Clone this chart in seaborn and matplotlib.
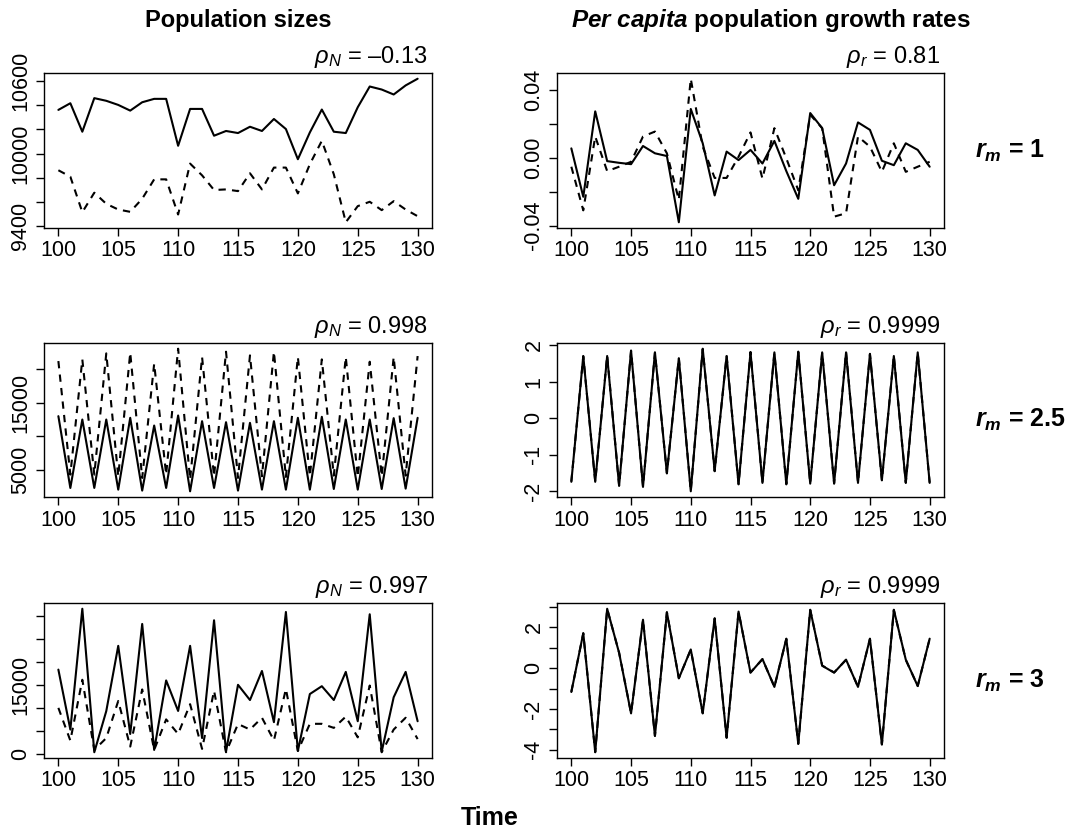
import matplotlib
matplotlib.use("Agg")
import matplotlib.pyplot as plt
import seaborn as sns
import pandas as pd
import numpy as np

# ---------------- data ----------------
years = list(range(100, 131))

# r_m = 1
pop1_solid = [10360, 10415, 10180, 10457, 10435, 10401, 10354, 10423, 10451, 10451,
              10064, 10368, 10368, 10147, 10186, 10169, 10221, 10186, 10285, 10202,
              9953, 10174, 10363, 10180, 10169, 10382, 10553, 10528, 10487, 10562, 10617]
pop1_dash = [9862, 9809, 9516, 9677, 9585, 9538, 9519, 9627, 9787, 9787,
             9497, 9917, 9820, 9699, 9704, 9690, 9837, 9704, 9884, 9884,
             9671, 9912, 10105, 9829, 9433, 9566, 9602, 9533, 9607, 9538, 9483]
gr1_solid = [0.0055, -0.023, 0.0273, -0.002, -0.003, -0.0038, 0.0069, 0.0026, 0.001, -0.038,
             0.0287, 0.0085, -0.0222, 0.0036, -0.0014, 0.0046, -0.0034, 0.0099, -0.0079, -0.0242,
             0.0263, 0.0174, -0.0162, -0.0034, 0.0208, 0.0164, -0.0018, -0.0044, 0.0085, 0.0046, -0.0053]
gr1_dash = [-0.0053, -0.031, 0.0125, -0.0079, -0.0053, -0.0024, 0.0125, 0.0154, 0.0026, -0.0248,
            0.0465, 0.0065, -0.0119, -0.0119, 0.0006, 0.0149, -0.0123, 0.0174, -0.0004, -0.0192,
            0.0253, 0.0174, -0.0347, -0.0327, 0.0125, 0.0065, -0.0083, 0.0085, -0.0083, -0.0053, -0.0024]

# r_m = 2.5
pop2_solid = [13000, 2250, 12500, 2250, 12500, 2000, 12750, 1850, 11600, 2250,
              13100, 1750, 12250, 2250, 12100, 1850, 12000, 2000, 12250, 2000,
              12750, 2000, 12900, 2100, 12500, 2000, 12500, 2100, 12700, 2150, 12750]
pop2_dash = [21250, 4250, 21500, 4250, 22400, 4000, 22500, 3750, 20850, 4250,
             23100, 3500, 21850, 4000, 22650, 3750, 22100, 4000, 22650, 3900,
             21850, 4000, 21500, 4100, 21850, 3900, 21150, 4000, 21850, 4100, 22000]
gr2_solid = [-1.74, 1.71, -1.74, 1.71, -1.85, 1.86, -1.88, 1.81, -1.51, 1.65,
             -2.00, 1.91, -1.44, 1.71, -1.81, 1.81, -1.77, 1.81, -1.81, 1.83,
             -1.79, 1.81, -1.79, 1.81, -1.77, 1.77, -1.69, 1.71, -1.77, 1.81, -1.77]
gr2_dash = [-1.73, 1.70, -1.73, 1.72, -1.84, 1.85, -1.87, 1.80, -1.50, 1.66,
            -1.99, 1.90, -1.45, 1.72, -1.80, 1.82, -1.76, 1.80, -1.80, 1.82,
            -1.78, 1.80, -1.78, 1.82, -1.76, 1.76, -1.70, 1.72, -1.76, 1.80, -1.76]

# r_m = 3
pop3_solid = [18300, 5300, 31500, 370, 9300, 23450, 4340, 28200, 880, 15950,
              9330, 23450, 3450, 29000, 510, 15000, 11700, 18000, 6900, 30800,
              660, 13000, 14700, 11700, 17800, 7100, 30300, 510, 12300, 17800, 7100]
pop3_dash = [10000, 2900, 16100, 880, 3450, 11500, 1600, 14000, 880, 7500,
             4340, 10800, 1100, 13700, 370, 6500, 5300, 7860, 2940, 14100,
             660, 6540, 6540, 5660, 8100, 3600, 14850, 370, 5300, 7860, 3230]
gr3_solid = [-1.17, 1.72, -4.13, 2.92, 0.75, -2.22, 2.38, -3.33, 2.75, -0.50,
             0.92, -2.22, 2.45, -3.42, 2.78, -0.22, 0.45, -0.92, 1.45, -3.72,
             2.87, 0.12, -0.22, 0.42, -0.92, 1.45, -3.75, 2.87, 0.42, -0.88, 1.45]
gr3_dash = [-1.16, 1.71, -4.12, 2.91, 0.76, -2.21, 2.37, -3.32, 2.74, -0.49,
            0.91, -2.21, 2.44, -3.41, 2.77, -0.21, 0.44, -0.91, 1.44, -3.71,
            2.86, 0.13, -0.21, 0.41, -0.91, 1.44, -3.74, 2.86, 0.41, -0.87, 1.44]

rho_labels = [r"$\rho_N$ = –0.13", r"$\rho_r$ = 0.81",
              r"$\rho_N$ = 0.998", r"$\rho_r$ = 0.9999",
              r"$\rho_N$ = 0.997", r"$\rho_r$ = 0.9999"]
rm_labels = ["1", "2.5", "3"]

x_ticks = [100, 105, 110, 115, 120, 125, 130]
y_ticks = [
    [9400, 9600, 9800, 10000, 10200, 10400, 10600],
    [-0.04, -0.02, 0.00, 0.02, 0.04],
    [5000, 10000, 15000, 20000],
    [-2, -1, 0, 1, 2],
    [0, 5000, 10000, 15000, 20000, 25000, 30000],
    [-4, -3, -2, -1, 0, 1, 2, 3],
]
y_ticklabels = [
    ["9400", "", "", "10000", "", "", "10600"],
    ["-0.04", "", "0.00", "", "0.04"],
    ["5000", "", "15000", ""],
    ["-2", "-1", "0", "1", "2"],
    ["0", "", "", "15000", "", "", ""],
    ["-4", "", "-2", "", "0", "", "2", ""],
]

panels = [(pop1_solid, pop1_dash), (gr1_solid, gr1_dash),
          (pop2_solid, pop2_dash), (gr2_solid, gr2_dash),
          (pop3_solid, pop3_dash), (gr3_solid, gr3_dash)]

# ---------------- style ----------------
sns.set_theme(style="white")
plt.rcParams["font.family"] = ["Liberation Sans", "DejaVu Sans"]
plt.rcParams["mathtext.fontset"] = "custom"
plt.rcParams["mathtext.rm"] = "Liberation Sans"
plt.rcParams["mathtext.it"] = "Liberation Sans:italic"
plt.rcParams["mathtext.bf"] = "Liberation Sans:bold"
plt.rcParams["mathtext.bfit"] = "Liberation Sans:italic:bold"
plt.rcParams["axes.unicode_minus"] = False
plt.rcParams["text.color"] = "black"
plt.rcParams["axes.labelcolor"] = "black"
plt.rcParams["xtick.color"] = "black"
plt.rcParams["ytick.color"] = "black"

W, H = 1065, 833
fig = plt.figure(figsize=(W / 100, H / 100), dpi=100)

cols = [(44, 432), (557, 944)]
rows = [(73, 228), (343, 497), (603, 758)]

for i, (solid, dash) in enumerate(panels):
    r, c = divmod(i, 2)
    x0, x1 = cols[c]
    y0, y1 = rows[r]
    ax = fig.add_axes([x0 / W, 1 - y1 / H, (x1 - x0) / W, (y1 - y0) / H])
    df = pd.DataFrame({"year": years, "solid": solid, "dash": dash})
    sns.lineplot(data=df, x="year", y="dash", ax=ax, color="black", lw=1.5,
                 linestyle=(0, (3.5, 3)))
    sns.lineplot(data=df, x="year", y="solid", ax=ax, color="black", lw=1.5)
    ax.margins(x=0.04, y=0.04)
    ax.set_xlabel("")
    ax.set_ylabel("")
    ax.set_xticks(x_ticks)
    ax.set_xticklabels([str(t) for t in x_ticks])
    ax.set_yticks(y_ticks[i])
    ax.set_yticklabels(y_ticklabels[i], rotation=90, va="center")
    for s in ax.spines.values():
        s.set_visible(True)
        s.set_color("black")
        s.set_linewidth(1.0)
    ax.tick_params(axis="both", direction="out", length=6, width=1.0,
                   color="black", labelsize=15.5, labelcolor="black", pad=3,
                   left=True, bottom=True)
    ax.grid(False)
    ax.text(0.99, 1.02, rho_labels[i], transform=ax.transAxes, ha="right",
            va="bottom", fontsize=17, color="black")

# titles
fig.text(238 / W, 1 - 20 / H, "Population sizes", ha="center", va="center",
         fontsize=17, fontweight="bold", color="black")
fig.text(771 / W, 1 - 20 / H, r"$\mathbfit{Per\ capita}$ population growth rates",
         ha="center", va="center", fontsize=17.5, fontweight="bold", color="black")
fig.text(490 / W, 1 - 818 / H, "Time", ha="center", va="center",
         fontsize=18, fontweight="bold", color="black")
for r, lab in enumerate(rm_labels):
    yc = (rows[r][0] + rows[r][1]) / 2
    fig.text(975 / W, 1 - yc / H, r"$\mathbfit{r}_{\mathbfit{m}}$ = " + lab,
             ha="left", va="center", fontsize=18, fontweight="bold", color="black")

fig.savefig("out.png", dpi=100)
